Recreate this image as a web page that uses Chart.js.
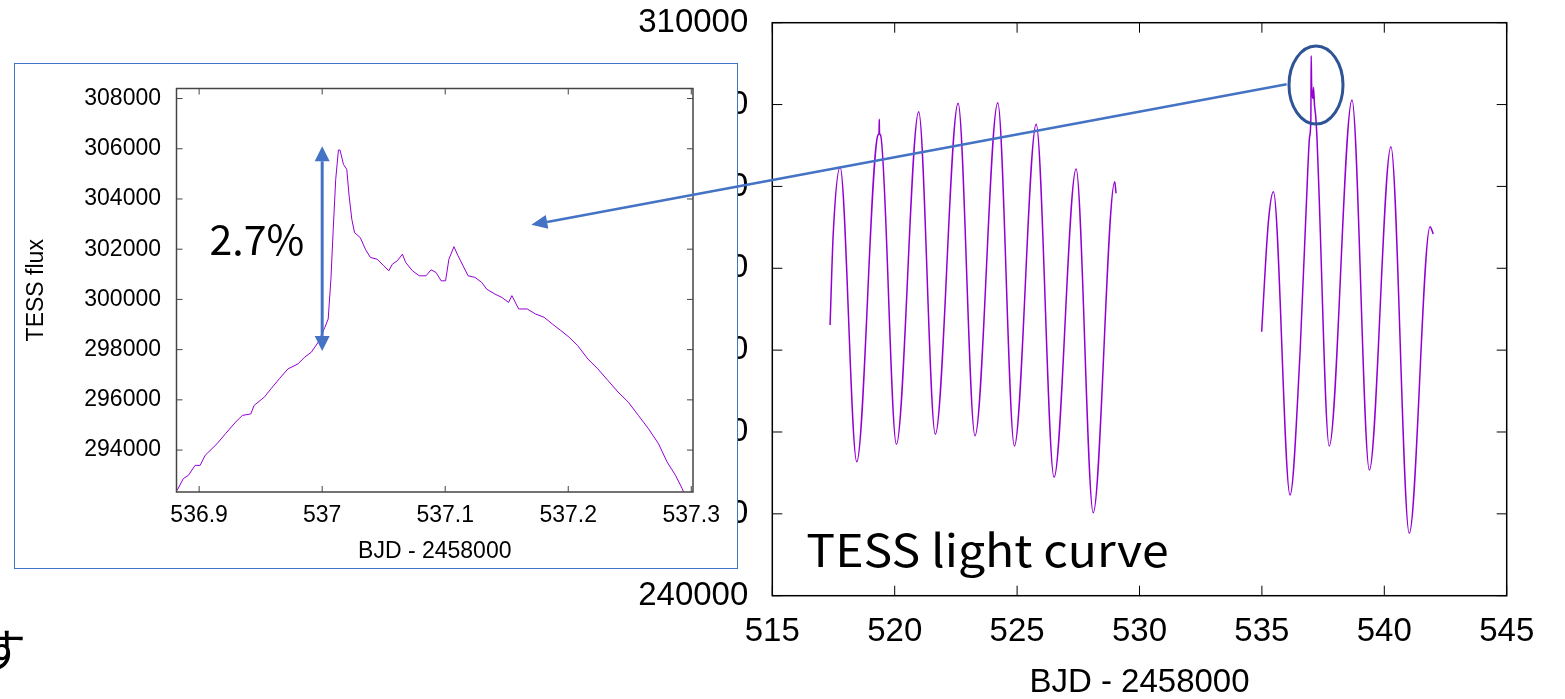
<!DOCTYPE html>
<html>
<head>
<meta charset="utf-8">
<script src="https://cdn.jsdelivr.net/npm/chart.js@4/dist/chart.umd.min.js"></script>
<style>
  html, body { margin: 0; padding: 0; background: #fff; width: 1565px; height: 699px; overflow: hidden; }
  #main { position: absolute; left: 0; top: 0; }
  #insetBox { position: absolute; left: 14px; top: 63px; width: 722px; height: 504px;
              border: 1.5px solid #4472C4; background: #fff; }
  #inset { position: absolute; left: 0; top: 0; }
  #overlay { position: absolute; left: 0; top: 0; pointer-events: none; }
</style>
</head>
<body>
<canvas id="main" width="1565" height="699"></canvas>
<div id="insetBox"><canvas id="inset" width="722" height="504"></canvas></div>
<canvas id="overlay" width="1565" height="699"></canvas>
<script>
// ---- TESS light curve, segment 1 (BJD - 2458000, flux) ----
const seg1X = [517.36, 517.49, 517.77, 518.45, 519.32, 519.36, 519.37, 519.38, 519.42, 520.07,
               520.98, 521.66, 522.59, 523.28, 524.21, 524.89, 525.78, 526.51, 527.41, 528.11,
               528.99, 529.04];
const seg1Y = [273070, 284270, 292340, 256370, 296300, 296500, 298200, 296500, 296300, 258500,
               299130, 259720, 300150, 259550, 300230, 258290, 297590, 254470, 292120, 250140,
               290580, 289160];

// ---- segment 2 (after the data gap), including the flare at 537.0 ----
const seg2X = [534.99, 535.26, 535.47, 536.15, 536.56, 536.88, 536.95, 537.00, 537.013, 537.03,
               537.05, 537.10, 537.107, 537.15, 537.20, 537.25, 537.30, 537.75, 538.68, 539.39,
               540.27, 541.02, 541.87, 542.00];
const seg2Y = [272250, 285490, 289350, 252300, 269810, 292400, 296100, 298300, 305950, 302460,
               301340, 300740, 302100, 299900, 298500, 295900, 292000, 258290, 300560, 255360,
               294850, 247620, 285080, 284190];

// ---- zoom on the flare ----
const flareX = [536.8822, 536.8871, 536.8912, 536.8967, 536.9008, 536.9049, 536.9145, 536.9214, 536.9296, 536.9351,
                536.942, 536.9447, 536.953, 536.9584, 536.9652, 536.9721, 536.9803, 536.9858, 536.9912, 536.9967,
                537.0022, 537.0049, 537.0071, 537.009, 537.011, 537.0132, 537.0145, 537.0173, 537.02, 537.0219,
                537.0241, 537.0263, 537.031, 537.0351, 537.0392, 537.0447, 537.0501, 537.0542, 537.057, 537.0611,
                537.0652, 537.0679, 537.0734, 537.0789, 537.0844, 537.0885, 537.0926, 537.0967, 537.1003, 537.103,
                537.1071, 537.1104, 537.1145, 537.1186, 537.1241, 537.1296, 537.1337, 537.1405, 537.146, 537.1515,
                537.1542, 537.1597, 537.1666, 537.1734, 537.1803, 537.1871, 537.194, 537.2008, 537.2077, 537.2159,
                537.2241, 537.2323, 537.2405, 537.2488, 537.257, 537.2652, 537.2734, 537.2803, 537.2871, 537.2926,
                537.2990];
const flareY = [292400, 292860, 292990, 293390, 293390, 293790, 294250, 294650, 295110, 295380,
                295440, 295780, 296110, 296440, 296840, 297230, 297430, 297700, 297900, 298290,
                298890, 299220, 300810, 302800, 304780, 305950, 305950, 305380, 305180, 304120,
                303190, 302660, 302460, 302000, 301670, 301600, 301340, 301140, 301400, 301540,
                301800, 301470, 301140, 300940, 300940, 301180, 301070, 300740, 300740, 301600,
                302100, 301740, 301340, 300940, 300880, 300680, 300410, 300210, 300080, 299880,
                300150, 299620, 299620, 299420, 299290, 299020, 298760, 298490, 298160, 297630,
                297230, 296770, 296310, 295910, 295380, 294850, 294250, 293530, 293000, 292470,
                291700];

// axis ranges and tick values
const mainXRange = [515, 545];
const mainXTicks = [515, 520, 525, 530, 535, 540, 545];
const mainYRange = [240000, 310000];
const mainYTicks = [240000, 250000, 260000, 270000, 280000, 290000, 300000, 310000];
const zoomXRange = [536.8816, 537.3014];
const zoomXTicks = [536.9, 537, 537.1, 537.2, 537.3];
const zoomYRange = [292330, 308400];
const zoomYTicks = [294000, 296000, 298000, 300000, 302000, 304000, 306000, 308000];

// annotation anchors (data coordinates)
const flareRise = [537.0, 297950, 306100];     // x, pre-flare flux, flare peak flux
const circleCenter = [537.21, 302390];          // main chart
const calloutFrom = [536.01, 302480];           // main chart
const calloutTo = [537.17, 302970];             // zoom chart

const LINE = '#9400D3';
const BLUE = '#4472C4';
const NAVY = '#2F5496';
const TEXT_FONT = '"Liberation Sans", Arial, sans-serif';
const JP_FONT = '"Noto Sans CJK JP", "Noto Sans CJK SC", sans-serif';

Chart.defaults.font.family = TEXT_FONT;
Chart.defaults.color = '#000';

const toPoints = (xs, ys) => xs.map((x, i) => ({ x, y: ys[i] }));
const fixedTicks = values => scale => { scale.ticks = values.map(v => ({ value: v })); };
const plain = v => String(v);
// fixed axis thickness; tick labels are allowed to overhang the plot edges
const fixedSize = (key, size) => scale => {
  scale[key] = size;
  scale.paddingTop = scale.paddingBottom = scale.paddingLeft = scale.paddingRight = 0;
};

// box around the plot area with inward tick marks on all four sides
const framePlugin = {
  id: 'frame',
  afterDraw(chart, args, opts) {
    const { ctx, chartArea: a, scales } = chart;
    const L = opts.tick;
    ctx.save();
    ctx.strokeStyle = opts.color;
    ctx.lineWidth = 1;
    ctx.beginPath();
    scales.x.ticks.forEach(t => {
      const p = scales.x.getPixelForValue(t.value);
      ctx.moveTo(p, a.bottom); ctx.lineTo(p, a.bottom - L);
      ctx.moveTo(p, a.top); ctx.lineTo(p, a.top + L);
    });
    scales.y.ticks.forEach(t => {
      const p = scales.y.getPixelForValue(t.value);
      ctx.moveTo(a.left, p); ctx.lineTo(a.left + L, p);
      ctx.moveTo(a.right, p); ctx.lineTo(a.right - L, p);
    });
    ctx.stroke();
    ctx.lineWidth = opts.width;
    ctx.strokeRect(a.left, a.top, a.right - a.left, a.bottom - a.top);
    ctx.restore();
  }
};

// nudge the layout padding until the plot area sits where it should
function placeArea(chart, pad, box) {
  for (let k = 0; k < 3; k++) {
    const a = chart.chartArea;
    pad.left += box.left - a.left;
    pad.top += box.top - a.top;
    pad.right += a.right - box.right;
    pad.bottom += a.bottom - box.bottom;
    chart.update('none');
  }
}

const mainPad = { left: 0, right: 58.3, top: 22.7, bottom: 0 };
const mainChart = new Chart(document.getElementById('main'), {
  type: 'line',
  data: {
    datasets: [
      { data: toPoints(seg1X, seg1Y), borderColor: LINE, borderWidth: 1.5, pointRadius: 0,
        cubicInterpolationMode: 'monotone', fill: false },
      { data: toPoints(seg2X, seg2Y), borderColor: LINE, borderWidth: 1.5, pointRadius: 0,
        cubicInterpolationMode: 'monotone', fill: false }
    ]
  },
  options: {
    responsive: false, animation: false, events: [],
    layout: { autoPadding: false, padding: mainPad },
    plugins: { legend: { display: false }, tooltip: { enabled: false },
               frame: { color: '#000', width: 1.5, tick: 10 } },
    scales: {
      x: {
        type: 'linear', min: mainXRange[0], max: mainXRange[1],
        afterBuildTicks: fixedTicks(mainXTicks),
        grid: { display: false, drawTicks: false }, border: { display: false },
        ticks: { autoSkip: false, maxRotation: 0, padding: 16.5,
                 font: { size: 33 }, color: '#000', callback: plain },
        title: { display: true, text: 'BJD - 2458000', color: '#000',
                 font: { size: 33, lineHeight: 1 }, padding: { top: 0, bottom: 0 } },
        afterFit: fixedSize('height', 103.3)
      },
      y: {
        type: 'linear', min: mainYRange[0], max: mainYRange[1],
        afterBuildTicks: fixedTicks(mainYTicks),
        grid: { display: false, drawTicks: false }, border: { display: false },
        ticks: { autoSkip: false, padding: 24,
                 font: { size: 33 }, color: '#000', callback: plain },
        afterFit: fixedSize('width', 772.3)
      }
    }
  },
  plugins: [framePlugin]
});
placeArea(mainChart, mainPad, { left: 772.3, top: 22.7, right: 1506.7, bottom: 595.7 });

const insetPad = { left: 0, right: 44, top: 24.5, bottom: 0 };
const insetChart = new Chart(document.getElementById('inset'), {
  type: 'line',
  data: {
    datasets: [
      { data: toPoints(flareX, flareY), borderColor: LINE, borderWidth: 1, pointRadius: 0,
        tension: 0, fill: false }
    ]
  },
  options: {
    responsive: false, animation: false, events: [],
    layout: { autoPadding: false, padding: insetPad },
    plugins: { legend: { display: false }, tooltip: { enabled: false },
               frame: { color: '#444', width: 1.5, tick: 6 } },
    scales: {
      x: {
        type: 'linear', min: zoomXRange[0], max: zoomXRange[1],
        afterBuildTicks: fixedTicks(zoomXTicks),
        grid: { display: false, drawTicks: false }, border: { display: false },
        ticks: { autoSkip: false, maxRotation: 0,
                 padding: 10, font: { size: 23 }, color: '#000', callback: plain },
        title: { display: true, text: 'BJD - 2458000', color: '#000',
                 font: { size: 23, lineHeight: 1 }, padding: { top: 0, bottom: 5 } },
        afterFit: fixedSize('height', 76)
      },
      y: {
        type: 'linear', min: zoomYRange[0], max: zoomYRange[1],
        afterBuildTicks: fixedTicks(zoomYTicks),
        grid: { display: false, drawTicks: false }, border: { display: false },
        ticks: { autoSkip: false,
                 padding: 15.5, font: { size: 23 }, color: '#000', callback: plain },
        title: { display: true, text: 'TESS flux', color: '#000',
                 font: { size: 23, lineHeight: 1 }, padding: { top: 10, bottom: 0 } },
        afterFit: fixedSize('width', 161.5)
      }
    }
  },
  plugins: [framePlugin]
});
placeArea(insetChart, insetPad, { left: 161.5, top: 24.5, right: 678, bottom: 428 });

function arrowHead(ctx, fx, fy, tx, ty, len, half) {
  const a = Math.atan2(ty - fy, tx - fx);
  const bx = tx - len * Math.cos(a), by = ty - len * Math.sin(a);
  ctx.beginPath();
  ctx.moveTo(tx, ty);
  ctx.lineTo(bx + half * Math.sin(a), by - half * Math.cos(a));
  ctx.lineTo(bx - half * Math.sin(a), by + half * Math.cos(a));
  ctx.closePath();
  ctx.fill();
  return [bx, by];
}

function drawOverlay() {
  const cv = document.getElementById('overlay');
  const ctx = cv.getContext('2d');
  ctx.clearRect(0, 0, cv.width, cv.height);
  const mx = mainChart.scales.x, my = mainChart.scales.y;
  const ix = insetChart.scales.x, iy = insetChart.scales.y;
  const r = document.getElementById('inset').getBoundingClientRect();
  const ox = r.left, oy = r.top;

  // circle around the flare in the full light curve
  const cx = mx.getPixelForValue(circleCenter[0]), cy = my.getPixelForValue(circleCenter[1]);
  ctx.strokeStyle = NAVY; ctx.lineWidth = 3;
  ctx.beginPath(); ctx.ellipse(cx, cy, 27, 39, 0, 0, Math.PI * 2); ctx.stroke();

  // callout arrow into the zoom panel
  const sx = mx.getPixelForValue(calloutFrom[0]), sy = my.getPixelForValue(calloutFrom[1]);
  const ex = ix.getPixelForValue(calloutTo[0]) + ox, ey = iy.getPixelForValue(calloutTo[1]) + oy;
  ctx.fillStyle = BLUE; ctx.strokeStyle = BLUE; ctx.lineWidth = 2.5;
  const [bx, by] = arrowHead(ctx, sx, sy, ex, ey, 16, 7);
  ctx.beginPath(); ctx.moveTo(sx, sy); ctx.lineTo(bx, by); ctx.stroke();

  // flare amplitude double arrow
  const ax = ix.getPixelForValue(flareRise[0]) + ox;
  const yLo = iy.getPixelForValue(flareRise[1]) + oy, yHi = iy.getPixelForValue(flareRise[2]) + oy;
  ctx.lineWidth = 3;
  const [, b1] = arrowHead(ctx, ax, yLo, ax, yHi, 15, 7.5);
  const [, b2] = arrowHead(ctx, ax, yHi, ax, yLo, 15, 7.5);
  ctx.beginPath(); ctx.moveTo(ax, b1); ctx.lineTo(ax, b2); ctx.stroke();

  const pct = ((flareRise[2] - flareRise[1]) / flareRise[1] * 100).toFixed(1) + '%';
  ctx.fillStyle = '#000';
  ctx.font = '41px ' + JP_FONT;
  ctx.textAlign = 'right'; ctx.textBaseline = 'alphabetic';
  ctx.fillText(pct, ax - 18, (yLo + yHi) / 2 + 6);

  // panel caption
  const area = mainChart.chartArea;
  ctx.save();
  ctx.translate(area.left + 34, area.bottom - 29);
  ctx.scale(1.07, 1);
  ctx.font = '45px ' + JP_FONT;
  ctx.textAlign = 'left';
  ctx.fillText('TESS light curve', 0, 0);
  ctx.restore();

  ctx.font = '46px ' + JP_FONT;
  ctx.textAlign = 'right';
  ctx.fillText('す', 26, 667);
}

drawOverlay();
if (document.fonts && document.fonts.ready) document.fonts.ready.then(drawOverlay);
</script>
</body>
</html>
